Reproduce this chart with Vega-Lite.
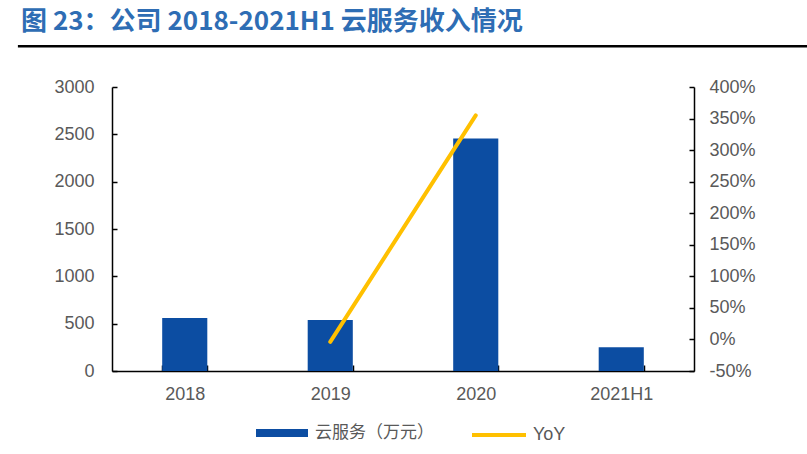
{
  "$schema": "https://vega.github.io/schema/vega-lite/v6.json",
  "padding": {"left": 17, "top": 8, "right": 0, "bottom": 0},
  "background": "white",
  "spacing": 25,
  "config": {"font": "Liberation Sans"},
  "resolve": {"scale": {"fill": "independent", "stroke": "independent"}, "legend": {"fill": "independent", "stroke": "independent"}},
  "vconcat": [
    {
      "width": 790,
      "height": 0.5,
      "view": {"stroke": "#000000", "strokeWidth": 2.2, "fill": null},
      "title": {
        "text": "图 23：公司 2018-2021H1 云服务收入情况",
        "anchor": "start",
        "font": "Noto Sans CJK SC",
        "fontSize": 26,
        "fontWeight": "bold",
        "color": "#2E6DB4",
        "offset": 5,
        "dx": 2
      },
      "data": {"values": [{"t": ""}]},
      "mark": {"type": "text"},
      "encoding": {"text": {"field": "t", "type": "nominal"}}
    },
    {
      "spacing": 33,
      "resolve": {"scale": {"fill": "independent", "stroke": "independent"}, "legend": {"fill": "independent", "stroke": "independent"}},
      "hconcat": [
        {
          "width": 1,
          "height": 284,
          "view": {"stroke": null},
          "data": {"values": [{"t": ""}]},
          "mark": {"type": "text"},
          "encoding": {"text": {"field": "t", "type": "nominal"}}
        },
        {
          "width": 582,
          "height": 284,
          "view": {"stroke": null},
          "data": {
            "values": [
              {"year": "2018", "rev": 560, "yoy": null},
              {"year": "2019", "rev": 539, "yoy": -3.8},
              {"year": "2020", "rev": 2455, "yoy": 355},
              {"year": "2021H1", "rev": 252, "yoy": null}
            ]
          },
          "encoding": {
            "x": {
              "field": "year",
              "type": "nominal",
              "sort": null,
              "scale": {"paddingInner": 0.69, "paddingOuter": 0.345},
              "axis": {
                "title": null,
                "labelAngle": 0,
                "labelFontSize": 18,
                "labelColor": "#595959",
                "domainColor": "#000000",
                "domainWidth": 1.5,
                "tickBand": "extent",
                "tickSize": -6,
                "tickColor": "#000000",
                "tickWidth": 1.5,
                "labelPadding": 20
              }
            }
          },
          "layer": [
            {
              "mark": {"type": "bar"},
              "encoding": {
                "y": {
                  "field": "rev",
                  "type": "quantitative",
                  "scale": {"domain": [0, 3000]},
                  "axis": {
                    "title": null,
                    "values": [0, 500, 1000, 1500, 2000, 2500, 3000],
                    "format": "d",
                    "grid": false,
                    "labelFontSize": 18,
                    "labelColor": "#595959",
                    "domainColor": "#000000",
                    "domainWidth": 1.5,
                    "tickSize": -5,
                    "tickColor": "#000000",
                    "tickWidth": 1.5,
                    "labelPadding": 23
                  }
                },
                "fill": {
                  "datum": "云服务（万元）",
                  "type": "nominal",
                  "scale": {"range": ["#0C4DA2"]},
                  "legend": {
                    "title": null,
                    "orient": "none",
                    "legendX": 144,
                    "legendY": 320,
                    "symbolType": "M-1,-0.15H1V0.15H-1Z",
                    "symbolSize": 2704,
                    "symbolStrokeWidth": 0,
                    "labelFontSize": 17,
                    "labelFont": "Noto Sans CJK SC",
                    "labelColor": "#595959",
                    "labelOffset": 7,
                    "padding": 0
                  }
                }
              }
            },
            {
              "mark": {"type": "line", "strokeWidth": 4, "strokeCap": "round"},
              "encoding": {
                "y": {
                  "field": "yoy",
                  "type": "quantitative",
                  "scale": {"domain": [-50, 400]},
                  "axis": {
                    "orient": "right",
                    "title": null,
                    "values": [-50, 0, 50, 100, 150, 200, 250, 300, 350, 400],
                    "labelExpr": "datum.value + '%'",
                    "grid": false,
                    "labelFontSize": 18,
                    "labelColor": "#595959",
                    "domainColor": "#000000",
                    "domainWidth": 1.5,
                    "tickSize": -5,
                    "tickColor": "#000000",
                    "tickWidth": 1.5,
                    "labelPadding": 20
                  }
                },
                "stroke": {
                  "datum": "YoY",
                  "type": "nominal",
                  "scale": {"range": ["#FFC000"]},
                  "legend": {
                    "title": null,
                    "orient": "none",
                    "legendX": 358,
                    "legendY": 319,
                    "symbolType": "stroke",
                    "symbolSize": 2916,
                    "symbolStrokeWidth": 4,
                    "labelFontSize": 18,
                    "labelColor": "#595959",
                    "labelOffset": 5,
                    "padding": 0
                  }
                }
              }
            }
          ],
          "resolve": {"scale": {"y": "independent"}}
        }
      ]
    }
  ]
}
